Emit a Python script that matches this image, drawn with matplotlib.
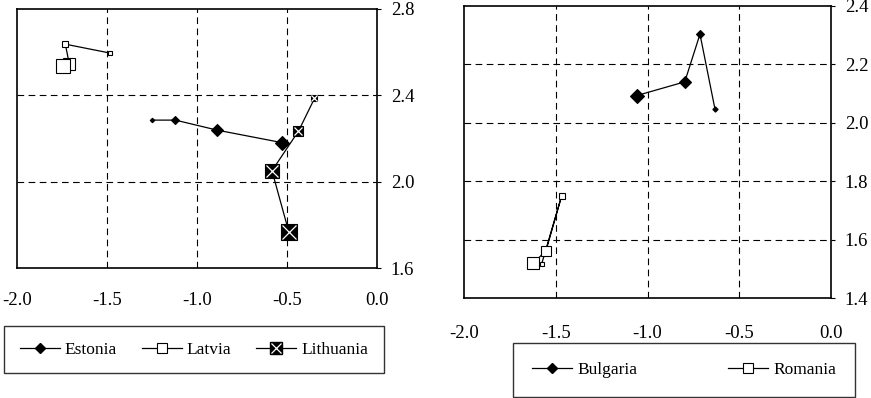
import matplotlib
matplotlib.use("Agg")
import matplotlib.pyplot as plt
from matplotlib.lines import Line2D
from matplotlib.legend_handler import HandlerTuple

plt.rcParams['font.family'] = ['Liberation Serif', 'DejaVu Serif']

# ---- Data (left panel) ----
estonia_x = [-1.248, -1.119, -0.889, -0.528]
estonia_y = [2.285, 2.285, 2.239, 2.181]
estonia_ms = [2.3, 3.8, 6.1, 6.9]

latvia_x = [-1.482, -1.730, -1.708, -1.744]
latvia_y = [2.595, 2.636, 2.544, 2.533]
latvia_ms = [2.8, 4.2, 8.2, 9.8]

lithuania_x = [-0.347, -0.436, -0.583, -0.489]
lithuania_y = [2.385, 2.234, 2.051, 1.767]
lithuania_ms = [4.8, 7.2, 10.6, 12.0]

# ---- Data (right panel) ----
bulgaria_x = [-0.632, -0.714, -0.797, -1.059]
bulgaria_y = [2.046, 2.303, 2.140, 2.093]
bulgaria_ms = [2.7, 4.1, 5.8, 7.1]

romania_x = [-1.577, -1.468, -1.553, -1.622]
romania_y = [1.517, 1.750, 1.563, 1.520]
romania_ms = [2.9, 3.9, 7.3, 9.3]

x_ticks = [-2.0, -1.5, -1.0, -0.5, 0.0]
x_ticklabels = ['-2.0', '-1.5', '-1.0', '-0.5', '0.0']
left_y_ticks = [1.6, 2.0, 2.4, 2.8]
right_y_ticks = [1.4, 1.6, 1.8, 2.0, 2.2, 2.4]

W, H = 871, 398
fig = plt.figure(figsize=(W / 100, H / 100), dpi=100)


def fx(px):
    return px / W


def fy(py):
    return 1 - py / H


axL = fig.add_axes([fx(16.7), fy(268.3), fx(377) - fx(16.7), fy(8.7) - fy(268.3)])
axR = fig.add_axes([fx(464), fy(298.3), fx(831) - fx(464), fy(5.8) - fy(298.3)])

TICK_FS = 13.5
LEG_FS = 12.5


def style(ax, yticks, ylim, xpad):
    ax.set_xlim(-2.0, 0.0)
    ax.set_ylim(*ylim)
    ax.set_xticks(x_ticks)
    ax.set_xticklabels(x_ticklabels)
    ax.set_yticks(yticks)
    ax.set_yticklabels([f'{v:.1f}' for v in yticks])
    ax.yaxis.tick_right()
    ax.tick_params(axis='y', direction='out', length=3, width=0.8, pad=7,
                   labelsize=TICK_FS, left=False, right=True)
    ax.tick_params(axis='x', direction='out', length=0, pad=xpad,
                   labelsize=TICK_FS)
    for s in ax.spines.values():
        s.set_linewidth(1.2)
        s.set_color('black')
    # internal dashed gridlines
    for xv in x_ticks[1:-1]:
        ax.axvline(xv, color='black', lw=0.8, ls=(0, (6, 4)), zorder=1)
    for yv in yticks[1:-1]:
        ax.axhline(yv, color='black', lw=0.8, ls=(0, (6, 4)), zorder=1)


style(axL, left_y_ticks, (1.6, 2.8), 17)
style(axR, right_y_ticks, (1.4, 2.4), 19)


def series(ax, xs, ys, sizes, marker, face, edge, overlay=False):
    ax.plot(xs, ys, color='black', lw=0.9, zorder=2)
    for x, y, ms in zip(xs, ys, sizes):
        ax.plot([x], [y], marker=marker, ms=ms, mfc=face, mec=edge,
                mew=0.8, ls='none', zorder=3)
        if overlay:
            ax.plot([x], [y], marker='x', ms=ms * 0.85, mec='white',
                    mew=0.9, ls='none', zorder=4)


series(axL, estonia_x, estonia_y, estonia_ms, 'D', 'black', 'black')
series(axL, latvia_x, latvia_y, latvia_ms, 's', 'white', 'black')
series(axL, lithuania_x, lithuania_y, lithuania_ms, 's', 'black', 'black',
       overlay=True)

series(axR, bulgaria_x, bulgaria_y, bulgaria_ms, 'D', 'black', 'black')
series(axR, romania_x, romania_y, romania_ms, 's', 'white', 'black')

# ---- Legends ----
h_est = Line2D([], [], color='black', lw=0.9, marker='D', ms=5.5,
               mfc='black', mec='black')
h_lat = Line2D([], [], color='black', lw=0.9, marker='s', ms=7.5,
               mfc='white', mec='black', mew=0.8)
h_lit_a = Line2D([], [], color='black', lw=0.9, marker='s', ms=8.5,
                 mfc='black', mec='black')
h_lit_b = Line2D([], [], ls='none', marker='x', ms=7.5, mec='white', mew=0.9)

legL = fig.legend([h_est, h_lat, (h_lit_a, h_lit_b)],
                  ['Estonia', 'Latvia', 'Lithuania'],
                  handler_map={tuple: HandlerTuple(ndivide=1)},
                  loc='center', ncol=3, mode='expand',
                  bbox_to_anchor=(fx(4), fy(373.5), fx(384) - fx(4), fy(325.5) - fy(373.5)),
                  borderaxespad=0, fontsize=LEG_FS, frameon=True,
                  fancybox=False, edgecolor='black', handlelength=2.3,
                  handletextpad=0.3, borderpad=0.9)
legL.get_frame().set_linewidth(1.0)

h_bul = Line2D([], [], color='black', lw=0.9, marker='D', ms=5.5,
               mfc='black', mec='black')
h_rom = Line2D([], [], color='black', lw=0.9, marker='s', ms=7.5,
               mfc='white', mec='black', mew=0.8)
legR = fig.legend([h_bul, h_rom], ['Bulgaria', 'Romania'],
                  loc='center', ncol=2, mode='expand',
                  bbox_to_anchor=(fx(513), fy(396.5), fx(855) - fx(513), fy(343) - fy(396.5)),
                  borderaxespad=0, fontsize=LEG_FS, frameon=True,
                  fancybox=False, edgecolor='black', handlelength=2.3,
                  handletextpad=0.3, borderpad=1.1)
legR.get_frame().set_linewidth(1.0)

fig.savefig('out.png', dpi=100)
